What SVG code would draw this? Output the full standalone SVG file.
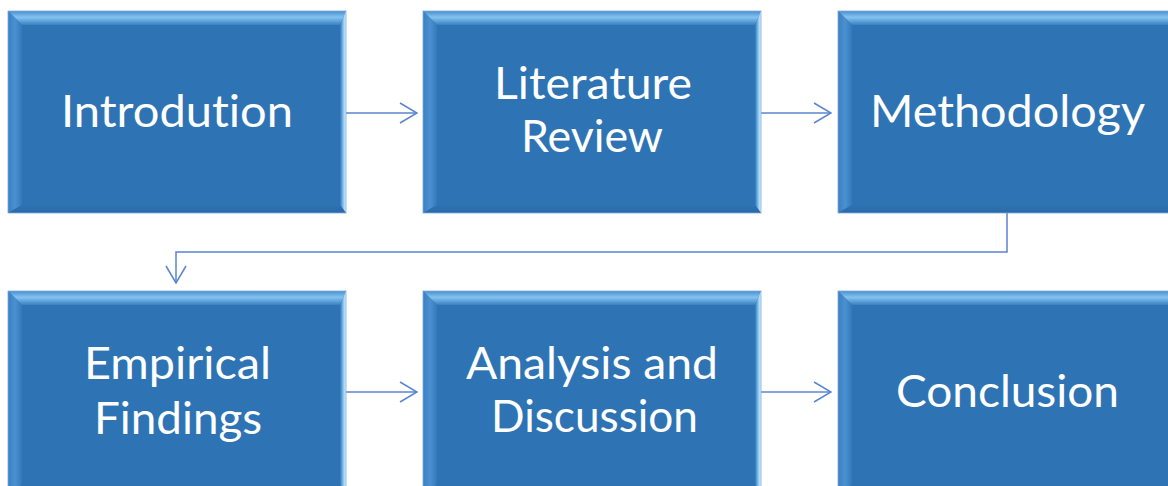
<svg xmlns="http://www.w3.org/2000/svg" xmlns:xlink="http://www.w3.org/1999/xlink" width="1168" height="486" viewBox="0 0 1168 486">
<style>
.lbl{font-family:Lato,"Open Sans","Liberation Sans",sans-serif;font-size:44px;fill:#ffffff;text-anchor:middle;font-variant-ligatures:none;font-feature-settings:"liga" 0,"clig" 0}
.conn{fill:none;stroke:#5B84CF;stroke-width:1.5}
</style>
<defs>
<linearGradient id="gTop" x1="0" y1="0" x2="0" y2="1">
<stop offset="0" stop-color="#4A8FCF"/>
<stop offset="0.45" stop-color="#84C3F0"/>
<stop offset="1" stop-color="#3A80C2"/>
</linearGradient>
<linearGradient id="gLeft" x1="0" y1="0" x2="1" y2="0">
<stop offset="0" stop-color="#3A80C1"/>
<stop offset="0.5" stop-color="#4B91D1"/>
<stop offset="1" stop-color="#3479BA"/>
</linearGradient>
<linearGradient id="gRight" x1="0" y1="0" x2="1" y2="0">
<stop offset="0" stop-color="#2F76B7"/>
<stop offset="0.6" stop-color="#8FCBF3"/>
<stop offset="1" stop-color="#E2F4FF"/>
</linearGradient>
<linearGradient id="gBot" x1="0" y1="0" x2="0" y2="1">
<stop offset="0" stop-color="#2E73B3"/>
<stop offset="1" stop-color="#2A69A6"/>
</linearGradient>
<g id="box">
<rect x="0" y="0" width="338" height="202" fill="#2E74B5"/>
<polygon points="0,0 338,0 332,14 14,14" fill="url(#gTop)"/>
<polygon points="0,0 14,14 14,194 0,202" fill="url(#gLeft)"/>
<polygon points="338,0 338,202 332,194 332,14" fill="url(#gRight)"/>
<polygon points="0,202 338,202 332,194 14,194" fill="url(#gBot)"/>
<rect x="0" y="0" width="338" height="202" fill="none" stroke="#7FA9DC" stroke-width="0.8"/>
</g>
<marker id="arr" viewBox="-1 -1 19 22" refX="17" refY="10" markerWidth="19" markerHeight="22" markerUnits="userSpaceOnUse" orient="auto">
<path d="M0,0 L17,10 L0,20" fill="none" stroke="#5B84CF" stroke-width="1.5"/>
</marker>
</defs>
<g id="connectors">
<path class="conn" d="M346,113 H417" marker-end="url(#arr)"/>
<path class="conn" d="M761,113 H831" marker-end="url(#arr)"/>
<path class="conn" d="M1007,213 V252 H176 V283" marker-end="url(#arr)"/>
<path class="conn" d="M346,392 H417" marker-end="url(#arr)"/>
<path class="conn" d="M761,392 H831" marker-end="url(#arr)"/>
</g>
<g id="node-introduction">
<use xlink:href="#box" x="8" y="11"/>
<text class="lbl" x="177" y="127" textLength="232" lengthAdjust="spacingAndGlyphs">Introdution</text>
</g>
<g id="node-literature-review">
<use xlink:href="#box" x="423" y="11"/>
<text class="lbl" x="593" y="99" textLength="198" lengthAdjust="spacingAndGlyphs">Literature</text>
<text class="lbl" x="592" y="152" textLength="142" lengthAdjust="spacingAndGlyphs">Review</text>
</g>
<g id="node-methodology">
<use xlink:href="#box" x="838" y="11"/>
<text class="lbl" x="1007.5" y="127" textLength="275" lengthAdjust="spacingAndGlyphs">Methodology</text>
</g>
<g id="node-empirical-findings">
<use xlink:href="#box" x="8" y="291"/>
<text class="lbl" x="177.5" y="378.5" textLength="187" lengthAdjust="spacingAndGlyphs">Empirical</text>
<text class="lbl" x="178" y="433.5" textLength="168" lengthAdjust="spacingAndGlyphs">Findings</text>
</g>
<g id="node-analysis-discussion">
<use xlink:href="#box" x="423" y="291"/>
<text class="lbl" x="592" y="379" textLength="252" lengthAdjust="spacingAndGlyphs">Analysis and</text>
<text class="lbl" x="594.5" y="432" textLength="207" lengthAdjust="spacingAndGlyphs">Discussion</text>
</g>
<g id="node-conclusion">
<use xlink:href="#box" x="838" y="291"/>
<text class="lbl" x="1007.5" y="407" textLength="223" lengthAdjust="spacingAndGlyphs">Conclusion</text>
</g>
</svg>
